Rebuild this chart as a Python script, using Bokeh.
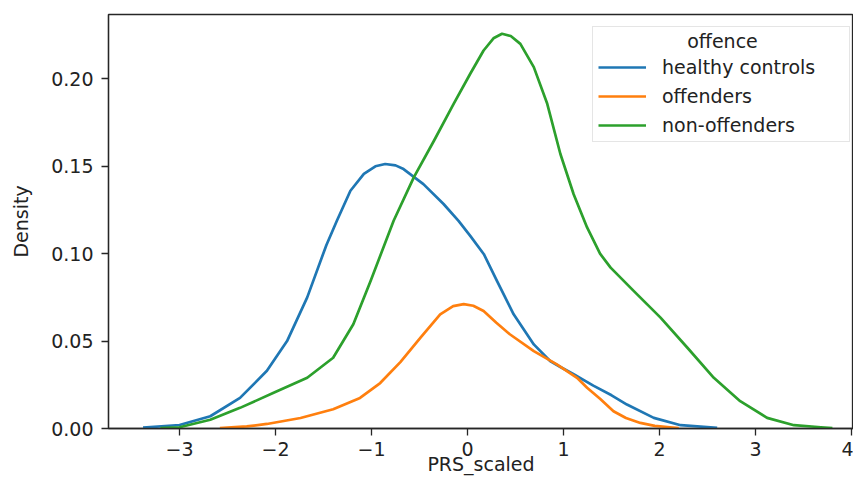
from bokeh.plotting import figure
from bokeh.models import Range1d, FixedTicker, PrintfTickFormatter, Legend, LegendItem, Label
from bokeh.embed import file_html
from bokeh.resources import INLINE

# ---- data ----
series_names = ["healthy controls", "offenders", "non-offenders"]
series_colors = ["#1f77b4", "#ff7f0e", "#2ca02c"]

healthy_x = [-3.38, -3.0, -2.68, -2.37, -2.09, -1.88, -1.67, -1.47, -1.36, -1.22, -1.08, -0.96,
             -0.858, -0.75, -0.667, -0.46, -0.25, -0.094, 0.03, 0.17, 0.306, 0.48, 0.69, 0.86,
             0.967, 1.105, 1.31, 1.5, 1.66, 1.94, 2.22, 2.6]
healthy_y = [0.0005, 0.002, 0.007, 0.0175, 0.033, 0.050, 0.075, 0.105, 0.119, 0.136, 0.1456, 0.150,
             0.1513, 0.1505, 0.1484, 0.1398, 0.1284, 0.1188, 0.110, 0.0997, 0.0844, 0.0653, 0.0481,
             0.0386, 0.0352, 0.031, 0.0245, 0.019, 0.0137, 0.0061, 0.0019, 0.0004]

offenders_x = [-2.58, -2.3, -2.09, -1.74, -1.40, -1.12, -0.91, -0.70, -0.49, -0.285, -0.15, -0.04,
               0.06, 0.167, 0.30, 0.44, 0.69, 0.93, 1.14, 1.245, 1.38, 1.52, 1.65, 1.80, 1.95,
               2.11, 2.2]
offenders_y = [0.0002, 0.0012, 0.0026, 0.006, 0.011, 0.0175, 0.026, 0.0380, 0.052, 0.0653, 0.0700,
               0.0711, 0.0702, 0.0672, 0.0605, 0.0539, 0.0443, 0.0367, 0.029, 0.0233, 0.017,
               0.0099, 0.006, 0.0032, 0.0015, 0.0007, 0.0003]

nonoff_x = [-3.2, -3.0, -2.68, -2.37, -2.02, -1.67, -1.40, -1.19, -1.01, -0.77, -0.56, -0.35,
            -0.145, 0.028, 0.167, 0.27, 0.359, 0.45, 0.55, 0.69, 0.83, 0.967, 1.105, 1.245, 1.38,
            1.49, 1.73, 2.01, 2.29, 2.565, 2.84, 3.12, 3.40, 3.68, 3.8]
nonoff_y = [0.0002, 0.0007, 0.005, 0.0118, 0.0204, 0.029, 0.0405, 0.0596, 0.0844, 0.1188, 0.1436,
            0.1646, 0.1857, 0.2029, 0.2162, 0.2232, 0.2258, 0.2245, 0.2200, 0.2067, 0.1857, 0.157,
            0.134, 0.115, 0.100, 0.092, 0.0787, 0.0634, 0.0462, 0.029, 0.0156, 0.0061, 0.0019,
            0.0007, 0.0002]

x_ticks = [-3, -2, -1, 0, 1, 2, 3, 4]
x_tick_labels = ["\u22123", "\u22122", "\u22121", "0", "1", "2", "3", "4"]
y_ticks = [0.0, 0.05, 0.10, 0.15, 0.20]
legend_title = "offence"

FONT = "DejaVu Sans"
FS = "19px"
TXT = "#222222"
SPINE = "#262626"

p = figure(width=853, height=485, output_backend="svg", toolbar_location=None,
           x_range=Range1d(-3.74, 4.02), y_range=Range1d(0, 0.2368),
           min_border_left=108, min_border_right=0, min_border_top=14, min_border_bottom=57)
p.background_fill_color = "white"
p.border_fill_color = "white"
p.xgrid.visible = False
p.ygrid.visible = False
p.outline_line_color = SPINE
p.outline_line_width = 1.3

renderers = []
for xs, ys, c in zip([healthy_x, offenders_x, nonoff_x], [healthy_y, offenders_y, nonoff_y], series_colors):
    r = p.line(xs, ys, line_color=c, line_width=2.7, line_join="round")
    renderers.append(r)

for ax in (p.xaxis[0], p.yaxis[0]):
    ax.axis_line_color = SPINE
    ax.axis_line_width = 1.3
    ax.major_tick_line_color = SPINE
    ax.major_tick_line_width = 1.3
    ax.major_tick_out = 7
    ax.major_tick_in = 0
    ax.minor_tick_line_color = None
    ax.major_label_text_font = FONT
    ax.major_label_text_font_size = FS
    ax.major_label_text_color = TXT
    ax.axis_label_text_font = FONT
    ax.axis_label_text_font_size = FS
    ax.axis_label_text_font_style = "normal"
    ax.axis_label_text_color = TXT

p.xaxis.ticker = FixedTicker(ticks=x_ticks)
p.xaxis.major_label_overrides = {t: l for t, l in zip(x_ticks, x_tick_labels)}
p.xaxis.axis_label = "PRS_scaled"
p.xaxis.major_label_standoff = 6
p.xaxis.axis_label_standoff = -6

p.yaxis.ticker = FixedTicker(ticks=y_ticks)
p.yaxis.formatter = PrintfTickFormatter(format="%.2f")
p.yaxis.axis_label = "Density"
p.yaxis.major_label_standoff = 8
p.yaxis.axis_label_standoff = 16

legend = Legend(items=[LegendItem(label=n, renderers=[r]) for n, r in zip(series_names, renderers)],
                location=(484, 286), title=legend_title,
                title_text_alpha=0.0, title_text_font=FONT, title_text_font_size=FS,
                title_standoff=2,
                label_text_font=FONT, label_text_font_size=FS, label_text_color=TXT,
                glyph_width=48, glyph_height=20, label_height=20, label_width=182,
                label_standoff=16, spacing=7, padding=5, margin=0,
                border_line_color="#cccccc", border_line_width=1.3,
                background_fill_color="white", background_fill_alpha=0.0)
p.add_layout(legend, "center")

p.add_layout(Label(x=614, y=388, x_units="screen", y_units="screen", text=legend_title,
                   text_align="center", text_baseline="middle", text_font=FONT,
                   text_font_size=FS, text_color=TXT, level="overlay"))

open("out.html", "w").write(file_html(p, INLINE))
